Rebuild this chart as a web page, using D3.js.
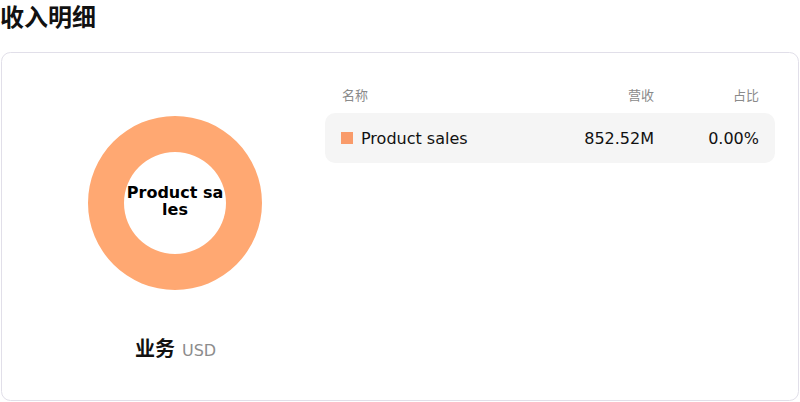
<!DOCTYPE html>
<html lang="zh">
<head>
<meta charset="UTF-8">
<title>收入明细</title>
<script src="https://d3js.org/d3.v7.min.js"></script>
<style>
    body {
        margin: 0;
        padding: 0;
        background: #fff;
        font-family: "DejaVu Sans", "Noto Sans CJK SC", sans-serif;
    }
    svg { display: block; }
</style>
</head>
<body>
<div id="chart"></div>
<script>
    // data
    const categories = ["Product sales"];
    const revenue = [852.52];          // millions USD
    const shareLabels = ["0.00%"];
    const colors = ["#ffa872"];
    const legendColors = ["#f99b6a"];
    const headers = ["名称", "营收", "占比"];
    const title = "收入明细";
    const groupLabel = "业务";
    const unitLabel = "USD";

    const W = 800, H = 402;
    const svg = d3.select("#chart").append("svg")
        .attr("width", W)
        .attr("height", H);

    // title
    svg.append("text")
        .attr("x", 0)
        .attr("y", 26)
        .attr("font-family", "'Noto Sans CJK SC', sans-serif")
        .attr("font-size", 24)
        .attr("font-weight", 700)
        .attr("fill", "#111")
        .text(title);

    // card
    svg.append("rect")
        .attr("x", 1.5).attr("y", 52.5)
        .attr("width", 797).attr("height", 348)
        .attr("rx", 9)
        .attr("fill", "#fff")
        .attr("stroke", "#e1dfe9");

    // donut
    const pie = d3.pie().sort(null).value(d => d);
    const arc = d3.arc().innerRadius(51).outerRadius(87);
    const donut = svg.append("g").attr("transform", "translate(175,203)");
    donut.selectAll("path")
        .data(pie(revenue))
        .join("path")
        .attr("d", arc)
        .attr("fill", (d, i) => colors[i]);

    // center label (wrapped)
    const center = donut.append("text")
        .attr("text-anchor", "middle")
        .attr("font-size", 16)
        .attr("font-weight", 700)
        .attr("fill", "#000");
    center.append("tspan").attr("x", 0).attr("y", -5).text(categories[0].slice(0, 10));
    center.append("tspan").attr("x", 0).attr("y", 12).text(categories[0].slice(10));

    // caption under donut
    const cap = svg.append("text").attr("y", 356);
    cap.append("tspan")
        .attr("x", 135)
        .attr("font-family", "'Noto Sans CJK SC', sans-serif")
        .attr("font-size", 20)
        .attr("font-weight", 700)
        .attr("fill", "#111")
        .text(groupLabel);
    cap.append("tspan")
        .attr("x", 182)
        .attr("font-size", 16)
        .attr("fill", "#8c8c8c")
        .text(unitLabel);

    // table
    const colX = [342, 654, 759];
    const hdr = svg.append("g").attr("font-family", "'Noto Sans CJK SC', sans-serif")
        .attr("font-size", 13).attr("fill", "#8a8a8a");
    headers.forEach((h, i) => {
        hdr.append("text")
            .attr("x", colX[i])
            .attr("y", 100)
            .attr("text-anchor", i === 0 ? "start" : "end")
            .text(h);
    });

    const y = d3.scaleBand()
        .domain(categories)
        .range([113, 113 + 50 * categories.length])
        .padding(0);

    const rows = svg.selectAll(".row")
        .data(categories)
        .join("g")
        .attr("class", "row")
        .attr("transform", d => `translate(0,${y(d)})`);

    rows.append("rect")
        .attr("x", 325).attr("y", 0)
        .attr("width", 450).attr("height", y.bandwidth())
        .attr("rx", 10)
        .attr("fill", "#f5f5f5");

    rows.append("rect")
        .attr("x", 341).attr("y", 19)
        .attr("width", 12).attr("height", 12)
        .attr("fill", (d, i) => legendColors[i]);

    rows.append("text")
        .attr("x", 361).attr("y", 31)
        .attr("font-size", 16)
        .attr("fill", "#111")
        .text(d => d);

    rows.append("text")
        .attr("x", colX[1]).attr("y", 31)
        .attr("text-anchor", "end")
        .attr("font-size", 16)
        .attr("fill", "#111")
        .text((d, i) => d3.format(".2f")(revenue[i]) + "M");

    rows.append("text")
        .attr("x", colX[2]).attr("y", 31)
        .attr("text-anchor", "end")
        .attr("font-size", 16)
        .attr("fill", "#111")
        .text((d, i) => shareLabels[i]);
</script>
</body>
</html>
